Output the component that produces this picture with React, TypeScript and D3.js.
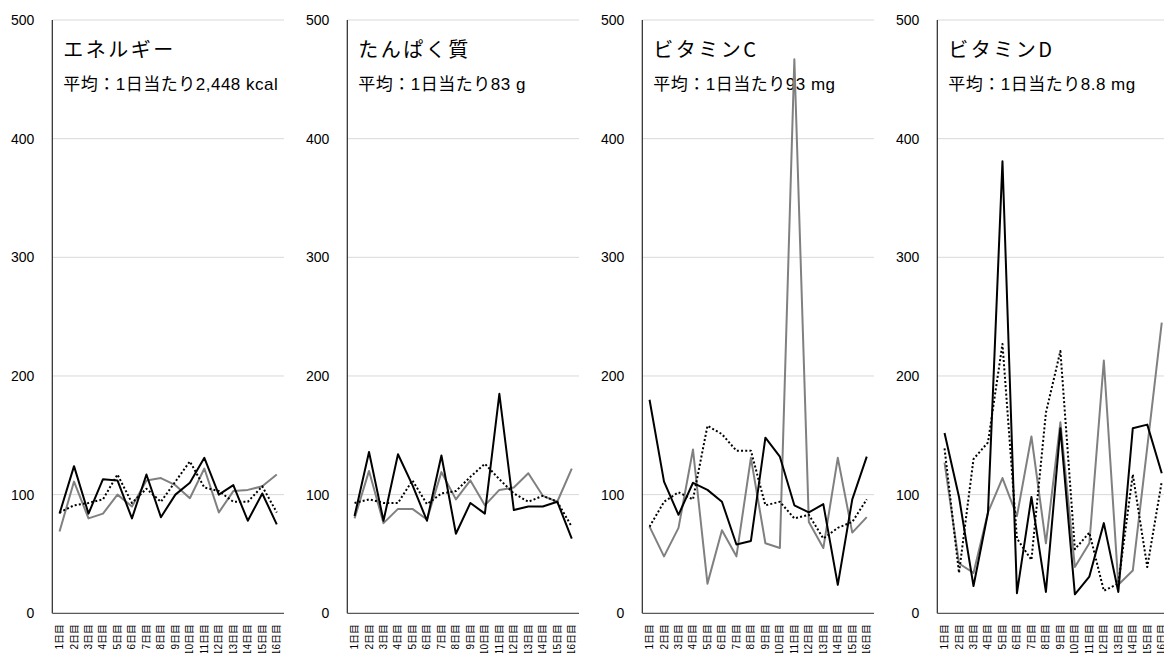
import React, { useEffect, useRef } from "react";
import * as d3 from "d3";

const WIDTH = 1164;
const HEIGHT = 653;

const days = [
  "1日目", "2日目", "3日目", "4日目", "5日目", "6日目", "7日目", "8日目",
  "9日目", "10日目", "11日目", "12日目", "13日目", "14日目", "15日目", "16日目",
];
const yTicks = [0, 100, 200, 300, 400, 500];

const titles = ["エネルギー", "たんぱく質", "ビタミンC", "ビタミンD"];
const subtitles = [
  "平均：1日当たり2,448 kcal",
  "平均：1日当たり83 g",
  "平均：1日当たり93 mg",
  "平均：1日当たり8.8 mg",
];

// each panel: gray solid, black solid, black dotted
const energyGray = [69, 111, 80, 84, 100, 90, 112, 114, 108, 97, 122, 85, 103, 104, 107, 117];
const energyBlack = [84, 124, 84, 113, 112, 80, 117, 81, 100, 110, 131, 100, 108, 78, 101, 75];
const energyDotted = [85, 91, 93, 96, 117, 93, 105, 94, 111, 128, 106, 103, 94, 94, 107, 85];

const proteinGray = [80, 120, 76, 88, 88, 79, 119, 96, 112, 91, 104, 106, 118, 99, 94, 122];
const proteinBlack = [82, 136, 78, 134, 108, 78, 133, 67, 93, 84, 185, 87, 90, 90, 94, 63];
const proteinDotted = [93, 96, 93, 93, 112, 92, 101, 103, 115, 126, 113, 101, 94, 99, 94, 73];

const vitCGray = [73, 48, 72, 138, 25, 70, 48, 131, 59, 55, 467, 77, 55, 131, 68, 81];
const vitCBlack = [180, 111, 83, 110, 104, 94, 58, 61, 148, 132, 91, 85, 92, 24, 96, 132];
const vitCDotted = [73, 94, 102, 96, 158, 151, 137, 137, 91, 94, 80, 83, 63, 72, 77, 96];

const vitDGray = [127, 42, 34, 85, 114, 82, 149, 59, 161, 39, 59, 213, 24, 36, 140, 245];
const vitDBlack = [152, 98, 23, 85, 381, 17, 98, 18, 156, 16, 31, 76, 18, 156, 159, 118];
const vitDDotted = [139, 34, 130, 144, 227, 63, 45, 169, 221, 54, 68, 19, 25, 117, 39, 111];

const panels = [
  { gray: energyGray, black: energyBlack, dotted: energyDotted },
  { gray: proteinGray, black: proteinBlack, dotted: proteinDotted },
  { gray: vitCGray, black: vitCBlack, dotted: vitCDotted },
  { gray: vitDGray, black: vitDBlack, dotted: vitDDotted },
];

const FONT = "'Liberation Sans', Arial, 'Noto Sans CJK JP', sans-serif";
const JP_FONT = "'Noto Sans CJK JP', 'Liberation Sans', sans-serif";

const App = () => {
  const svgRef = useRef(null);

  useEffect(() => {
    const svg = d3.select(svgRef.current);
    svg.selectAll("*").remove();

    const firstLeft = 52.3;
    const panelStep = 295;
    const plotWidth = 231.7;
    const top = 20;
    const bottom = 613.3;

    const y = d3.scaleLinear().domain([0, 500]).range([bottom, top]);

    panels.forEach((p, i) => {
      const left = firstLeft + i * panelStep;
      const x = d3
        .scalePoint<string>()
        .domain(days)
        .range([left, left + plotWidth])
        .padding(0.5);

      const g = svg.append("g");

      // gridlines
      g.selectAll(".grid")
        .data(yTicks.filter(t => t > 0))
        .enter()
        .append("line")
        .attr("x1", left)
        .attr("x2", left + plotWidth)
        .attr("y1", d => y(d))
        .attr("y2", d => y(d))
        .attr("stroke", "#d9d9d9")
        .attr("stroke-width", 1);

      // y tick labels
      g.selectAll(".ytick")
        .data(yTicks)
        .enter()
        .append("text")
        .attr("x", left - 18)
        .attr("y", d => y(d))
        .attr("dy", "0.35em")
        .attr("text-anchor", "end")
        .attr("font-family", FONT)
        .attr("font-size", 14)
        .attr("fill", "#000")
        .text(d => d);

      // axes
      g.append("line")
        .attr("x1", left)
        .attr("x2", left)
        .attr("y1", top)
        .attr("y2", bottom)
        .attr("stroke", "#262626")
        .attr("stroke-width", 1.2);
      g.append("line")
        .attr("x1", left)
        .attr("x2", left + plotWidth)
        .attr("y1", bottom)
        .attr("y2", bottom)
        .attr("stroke", "#595959")
        .attr("stroke-width", 1.3);

      // x tick labels, rotated (the page cuts the longer ones, as in the source)
      g.selectAll(".xtick")
        .data(days)
        .enter()
        .append("text")
        .attr("transform", d => `translate(${x(d)},624) rotate(-90)`)
        .attr("dy", "0.35em")
        .attr("text-anchor", "end")
        .attr("font-family", FONT)
        .attr("font-size", 10)
        .attr("fill", "#000")
        .text(d => d);

      // title & subtitle
      g.append("text")
        .attr("x", left + 11)
        .attr("y", 57)
        .attr("font-family", JP_FONT)
        .attr("font-size", 20)
        .attr("letter-spacing", 2.5)
        .attr("fill", "#000")
        .text(titles[i]);
      g.append("text")
        .attr("x", left + 11)
        .attr("y", 90)
        .attr("font-family", FONT)
        .attr("font-size", 17)
        .attr("letter-spacing", 0.5)
        .attr("fill", "#000")
        .text(subtitles[i]);

      const line = d3
        .line<number>()
        .x((d, j) => x(days[j]) as number)
        .y(d => y(d));

      const series = [
        { values: p.gray, color: "#808080", dash: null },
        { values: p.dotted, color: "#000", dash: "2 2.2" },
        { values: p.black, color: "#000", dash: null },
      ];

      series.forEach(s => {
        g.append("path")
          .datum(s.values)
          .attr("fill", "none")
          .attr("stroke", s.color)
          .attr("stroke-width", 2)
          .attr("stroke-dasharray", s.dash)
          .attr("stroke-linejoin", "round")
          .attr("d", line);
      });
    });
  }, []);

  return (
    <svg
      ref={svgRef}
      width={WIDTH}
      height={HEIGHT}
      style={{ position: "absolute", left: 0, top: 0, background: "#fff" }}
    />
  );
};

export default App;
